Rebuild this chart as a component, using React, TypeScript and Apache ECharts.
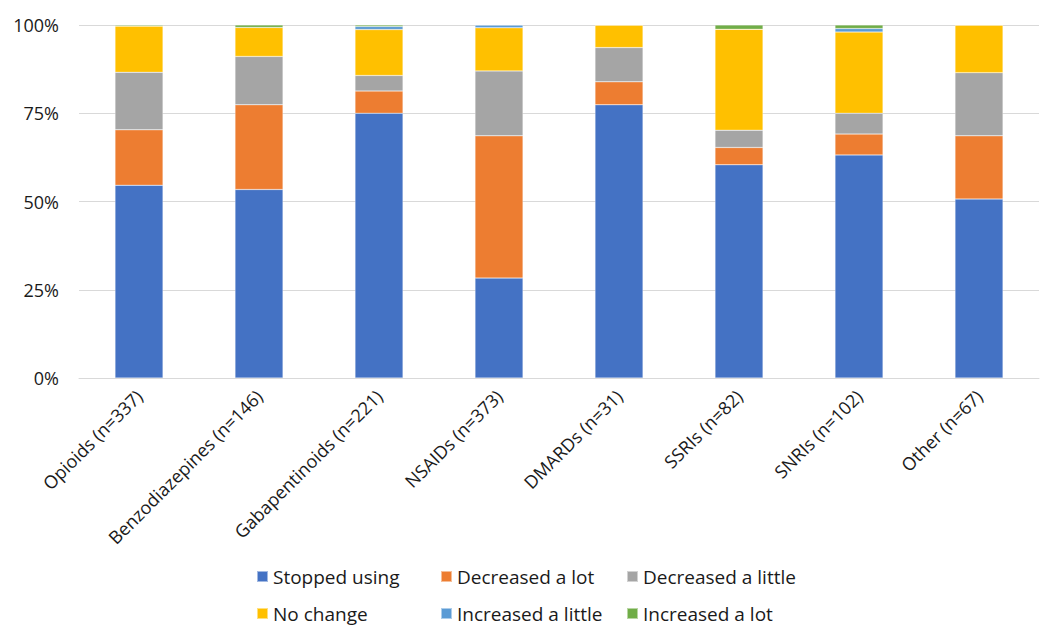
import React, { useEffect, useRef } from "react";
import * as echarts from "echarts";

const categories = [
  "Opioids (n=337)",
  "Benzodiazepines (n=146)",
  "Gabapentinoids (n=221)",
  "NSAIDs (n=373)",
  "DMARDs (n=31)",
  "SSRIs (n=82)",
  "SNRIs (n=102)",
  "Other (n=67)",
];

const seriesNames = [
  "Stopped using",
  "Decreased a lot",
  "Decreased a little",
  "No change",
  "Increased a little",
  "Increased a lot",
];

const stoppedUsing = [54.6, 53.4, 75.0, 28.3, 77.4, 60.4, 63.2, 50.7];
const decreasedALot = [15.7, 24.0, 6.3, 40.3, 6.5, 4.9, 5.9, 17.9];
const decreasedALittle = [16.3, 13.7, 4.4, 18.4, 9.7, 4.9, 5.9, 17.9];
const noChange = [13.1, 8.2, 13.0, 12.2, 6.4, 28.6, 23.0, 13.5];
const increasedALittle = [0, 0, 0.9, 0.8, 0, 0, 1.0, 0];
const increasedALot = [0.3, 0.7, 0.4, 0, 0, 1.2, 1.0, 0];

const yTicks = ["0%", "25%", "50%", "75%", "100%"];

const colors = ["#4472C4", "#ED7D31", "#A5A5A5", "#FFC000", "#5B9BD5", "#70AD47"];

const FONT = "'Open Sans', 'Noto Sans', sans-serif";

export default function App() {
  const ref = useRef<HTMLDivElement>(null);
  useEffect(() => {
    if (!ref.current) return;
    const chart = echarts.init(ref.current, undefined, { renderer: "svg" });
    const values = [
      stoppedUsing,
      decreasedALot,
      decreasedALittle,
      noChange,
      increasedALittle,
      increasedALot,
    ];
    const legendText = { fontSize: 19, color: "#1a1a1a", fontFamily: FONT };
    const legendCommon = {
      orient: "vertical" as const,
      top: 554,
      height: 80,
      itemWidth: 11,
      itemHeight: 11,
      itemGap: 18,
      icon: "rect",
      textStyle: legendText,
      selectedMode: false,
    };
    chart.setOption({
      animation: false,
      color: colors,
      textStyle: { fontFamily: FONT },
      grid: { left: 71, right: 3, top: 17, height: 353 },
      legend: [
        { ...legendCommon, left: 243, data: [seriesNames[0], seriesNames[3]] },
        { ...legendCommon, left: 427, data: [seriesNames[1], seriesNames[4]] },
        { ...legendCommon, left: 613, data: [seriesNames[2], seriesNames[5]] },
      ],
      xAxis: {
        type: "category",
        data: categories,
        axisTick: { show: false },
        axisLine: { lineStyle: { color: "#d9d9d9", width: 1 } },
        axisLabel: {
          rotate: 45,
          interval: 0,
          fontSize: 18,
          color: "#1a1a1a",
          fontFamily: FONT,
          margin: 15,
        },
      },
      yAxis: {
        type: "value",
        min: 0,
        max: 100,
        interval: 25,
        axisLabel: {
          fontSize: 18,
          color: "#1a1a1a",
          fontFamily: FONT,
          margin: 20,
          formatter: (v: number) => yTicks[Math.round(v / 25)],
        },
        splitLine: { lineStyle: { color: "#d9d9d9", width: 1 } },
        axisLine: { show: false },
        axisTick: { show: false },
      },
      series: seriesNames.map((name, i) => ({
        name,
        type: "bar",
        stack: "total",
        barWidth: "40%",
        data: values[i],
        itemStyle: { color: colors[i], borderColor: "rgba(255,255,255,0.5)", borderWidth: 0.5 },
      })),
    });
    return () => chart.dispose();
  }, []);
  return <div ref={ref} style={{ width: 1034, height: 620 }} />;
}
